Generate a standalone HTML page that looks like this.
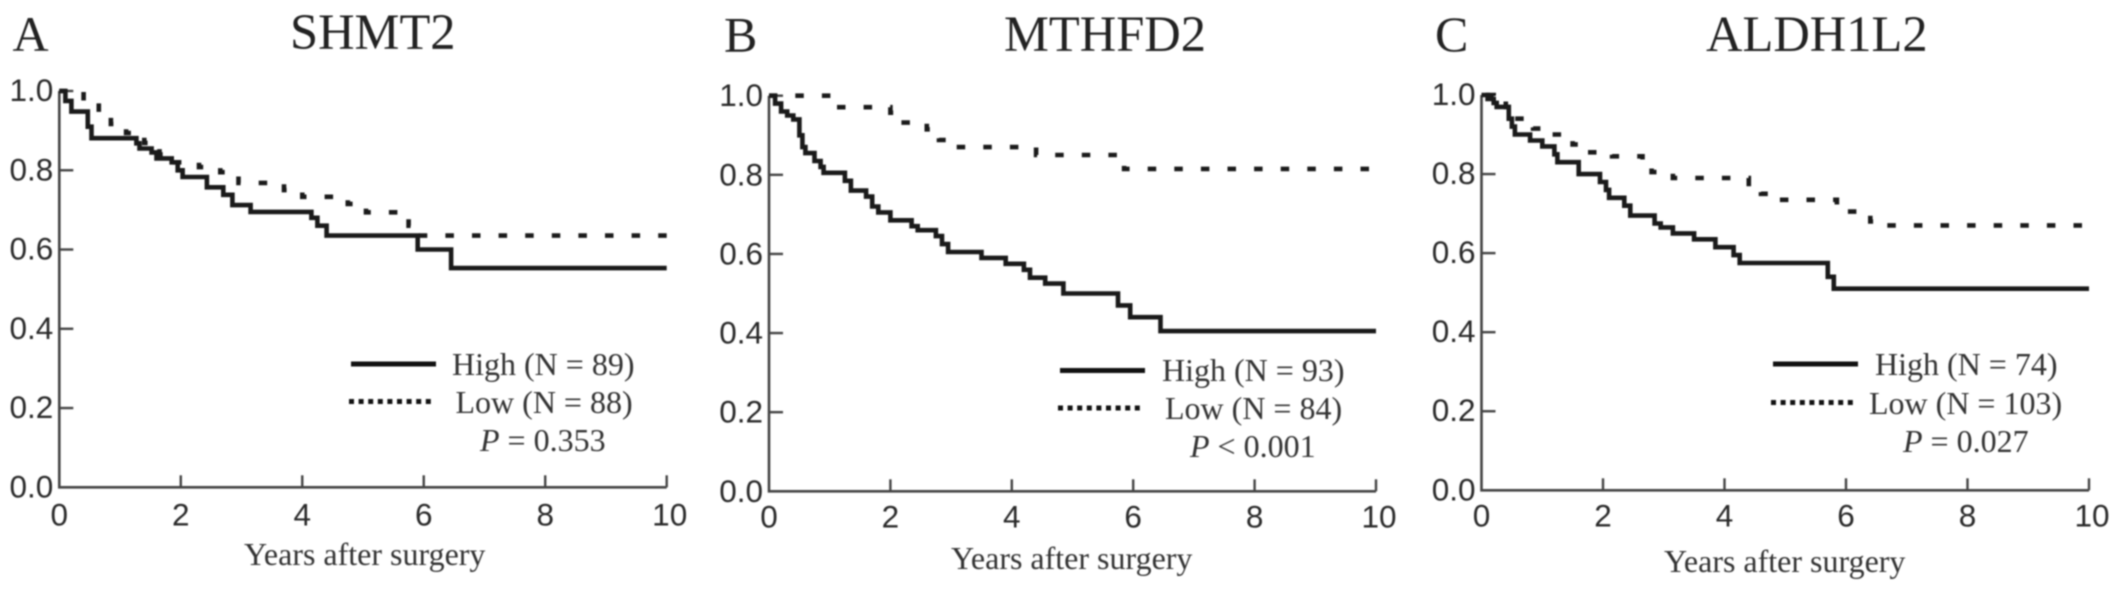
<!DOCTYPE html>
<html lang="en">
<head>
<meta charset="utf-8">
<title>Kaplan-Meier survival curves</title>
<style>
html,body{margin:0;padding:0;background:#fff;width:2126px;height:590px;overflow:hidden}
svg{display:block;filter:blur(0.7px)}
.serif{font-family:"Liberation Serif",serif;fill:#333}
.sans{font-family:"Liberation Sans",sans-serif;fill:#2a2a2a;font-size:31.5px}
.title{font-size:50.5px;fill:#222}
.letter{font-size:50px;fill:#222}
.leg{font-size:32px}
.xt{font-size:32px}
</style>
</head>
<body>
<svg id="figure" width="2126" height="590" viewBox="0 0 2126 590" xmlns="http://www.w3.org/2000/svg">
  <g id="panel-a">
    <text class="serif letter" x="12.5" y="51">A</text>
    <text class="serif title" x="290" y="49">SHMT2</text>
    <text class="serif xt" x="244" y="565">Years after surgery</text>
    <line x1="351" y1="364" x2="436" y2="364" stroke="#111" stroke-width="5"/>
    <line x1="349" y1="401.5" x2="434" y2="401.5" stroke="#111" stroke-width="5" stroke-dasharray="5 4.6"/>
    <text class="serif leg" x="452" y="375">High (N = 89)</text>
    <text class="serif leg" x="455.5" y="413">Low (N = 88)</text>
    <text class="serif leg" x="480" y="451"><tspan font-style="italic">P</tspan> = 0.353</text>
  </g>
  <g id="panel-b">
    <text class="serif letter" x="724" y="51.5">B</text>
    <text class="serif title" x="1004" y="51">MTHFD2</text>
    <text class="serif xt" x="951" y="569">Years after surgery</text>
    <line x1="1060" y1="370.5" x2="1145" y2="370.5" stroke="#111" stroke-width="5"/>
    <line x1="1058" y1="408" x2="1143" y2="408" stroke="#111" stroke-width="5" stroke-dasharray="5 4.6"/>
    <text class="serif leg" x="1162" y="381">High (N = 93)</text>
    <text class="serif leg" x="1165" y="419">Low (N = 84)</text>
    <text class="serif leg" x="1190" y="457"><tspan font-style="italic">P</tspan> &lt; 0.001</text>
  </g>
  <g id="panel-c">
    <text class="serif letter" x="1435" y="51">C</text>
    <text class="serif title" x="1706" y="51">ALDH1L2</text>
    <text class="serif xt" x="1664" y="572">Years after surgery</text>
    <line x1="1773" y1="364" x2="1858" y2="364" stroke="#111" stroke-width="5"/>
    <line x1="1771" y1="402.5" x2="1856" y2="402.5" stroke="#111" stroke-width="5" stroke-dasharray="5 4.6"/>
    <text class="serif leg" x="1875" y="375">High (N = 74)</text>
    <text class="serif leg" x="1869" y="414">Low (N = 103)</text>
    <text class="serif leg" x="1903" y="452"><tspan font-style="italic">P</tspan> = 0.027</text>
  </g>
</svg>
<script>
const xTicks = [0, 2, 4, 6, 8, 10];
const xTickLabels = ['0', '2', '4', '6', '8', '10'];
const yTicks = [0, 0.2, 0.4, 0.6, 0.8, 1.0];
const yTickLabels = ['0.0', '0.2', '0.4', '0.6', '0.8', '1.0'];

const highTimesA = [0, .1, .2, .42, .47, .53, 1.27, 1.32, 1.52, 1.6, 1.7, 1.85, 1.95, 2.03, 2.43, 2.7, 2.85, 3.15, 4.15, 4.25, 4.4, 5.9, 6.45, 10];
const highSurvA = [1, .975, .948, .948, .91, .881, .868, .855, .845, .83, .83, .82, .80, .783, .757, .738, .712, .695, .68, .66, .635, .60, .553, .553];
const lowTimesA = [0, .4, .65, .85, 1.1, 1.4, 1.65, 1.9, 2.3, 2.65, 2.95, 3.7, 4, 4.75, 5.05, 5.75, 5.85, 10];
const lowSurvA = [1, .975, .945, .917, .894, .869, .84, .82, .808, .795, .768, .75, .733, .715, .694, .66, .635, .635];

const highTimesB = [0, .1, .2, .3, .4, .5, .55, .6, .75, .85, .9, 1.25, 1.35, 1.6, 1.7, 1.8, 2, 2.35, 2.45, 2.75, 2.85, 2.95, 3.5, 3.9, 4.2, 4.3, 4.55, 4.85, 5.75, 5.95, 6.45, 10];
const highSurvB = [1, .98, .96, .95, .94, .90, .87, .855, .835, .82, .805, .785, .76, .745, .72, .705, .685, .67, .66, .645, .625, .605, .59, .575, .56, .54, .525, .50, .47, .44, .405, .405];
const lowTimesB = [0, 1.1, 2, 2.15, 2.6, 2.8, 3.05, 4.4, 5.85, 10];
const lowSurvB = [1, .971, .957, .932, .915, .888, .87, .85, .815, .815];

const highTimesC = [0, .1, .2, .25, .45, .5, .55, .8, 1, 1.2, 1.25, 1.6, 1.95, 2.05, 2.1, 2.35, 2.45, 2.85, 2.95, 3.15, 3.5, 3.85, 4.15, 4.25, 5.7, 5.8, 10];
const highSurvC = [1, .99, .98, .97, .94, .92, .90, .885, .87, .85, .83, .80, .78, .76, .74, .72, .695, .675, .665, .65, .635, .615, .595, .575, .54, .51, .51];
const lowTimesC = [0, .2, .4, .5, .85, 1.1, 1.5, 1.75, 2.15, 2.65, 2.8, 3.15, 4.4, 4.6, 4.9, 5.85, 6.4, 6.65, 10];
const lowSurvC = [1, .99, .97, .94, .915, .90, .875, .855, .845, .82, .805, .79, .755, .75, .735, .705, .68, .67, .67];

const NS = 'http://www.w3.org/2000/svg';

function xScale(t, frame) {
  return frame.x0 + (t / 10) * (frame.x1 - frame.x0);
}
function yScale(s, frame) {
  return frame.y0 + s * (frame.y1 - frame.y0);
}
function stepPath(times, surv, frame) {
  let d = 'M' + xScale(times[0], frame) + ' ' + yScale(surv[0], frame);
  for (let i = 1; i < times.length; i++) {
    d += 'H' + xScale(times[i], frame).toFixed(1);
    d += 'V' + yScale(surv[i], frame).toFixed(1);
  }
  return d;
}
function drawPanel(id, key, frame, highT, highS, lowT, lowS) {
  const g = document.getElementById(id);

  const axes = document.createElementNS(NS, 'path');
  axes.setAttribute('d', 'M' + frame.x0 + ' ' + frame.y1 + 'V' + frame.y0 + 'H' + frame.x1);
  axes.setAttribute('fill', 'none');
  axes.setAttribute('stroke', '#444');
  axes.setAttribute('stroke-width', '2.6');
  
  
  g.appendChild(axes);

  xTicks.forEach(function (t, i) {
    const px = xScale(t, frame);
    if (t > 0) {
      const tick = document.createElementNS(NS, 'line');
      tick.setAttribute('x1', px);
      tick.setAttribute('x2', px);
      tick.setAttribute('y1', frame.y0);
      tick.setAttribute('y2', frame.y0 - 12);
      tick.setAttribute('stroke', '#444');
      tick.setAttribute('stroke-width', '2.4');
      
      
      g.appendChild(tick);
    }
    const label = document.createElementNS(NS, 'text');
    label.setAttribute('class', 'sans');
    label.setAttribute('x', px + (t === 10 ? 3 : 0));
    label.setAttribute('y', frame.xBase);
    label.setAttribute('text-anchor', 'middle');
    
    
    label.textContent = xTickLabels[i];
    g.appendChild(label);
  });

  yTicks.forEach(function (s, i) {
    const py = yScale(s, frame);
    if (s > 0) {
      const tick = document.createElementNS(NS, 'line');
      tick.setAttribute('x1', frame.x0);
      tick.setAttribute('x2', frame.x0 + 14);
      tick.setAttribute('y1', py);
      tick.setAttribute('y2', py);
      tick.setAttribute('stroke', '#444');
      tick.setAttribute('stroke-width', '2.4');
      
      
      g.appendChild(tick);
    }
    const label = document.createElementNS(NS, 'text');
    label.setAttribute('class', 'sans');
    label.setAttribute('x', frame.x0 - 6);
    label.setAttribute('y', py + frame.yLabelDrop);
    label.setAttribute('text-anchor', 'end');
    
    
    label.textContent = yTickLabels[i];
    g.appendChild(label);
  });

  const low = document.createElementNS(NS, 'path');
  low.setAttribute('d', stepPath(lowT, lowS, frame));
  low.setAttribute('fill', 'none');
  low.setAttribute('stroke', '#1a1a1a');
  low.setAttribute('stroke-width', '4.6');
  low.setAttribute('stroke-dasharray', '8.5 18.1');
  
  
  g.appendChild(low);
  low.setAttribute('stroke-dashoffset', -(low.getTotalLength() - frame.dashTailGap - 8.5));

  const high = document.createElementNS(NS, 'path');
  high.setAttribute('d', stepPath(highT, highS, frame));
  high.setAttribute('fill', 'none');
  high.setAttribute('stroke', '#1a1a1a');
  high.setAttribute('stroke-width', '4.6');
  
  
  g.appendChild(high);
}

drawPanel('panel-a', 'a', {x0: 59.3, x1: 666.7, y0: 487.3, y1: 91, xBase: 525.5, yLabelDrop: 10, dashTailGap: 0}, highTimesA, highSurvA, lowTimesA, lowSurvA);
drawPanel('panel-b', 'b', {x0: 769, x1: 1376, y0: 491.3, y1: 95.7, xBase: 527.5, yLabelDrop: 10.5, dashTailGap: 7}, highTimesB, highSurvB, lowTimesB, lowSurvB);
drawPanel('panel-c', 'c', {x0: 1481.5, x1: 2089, y0: 490.3, y1: 95, xBase: 526.5, yLabelDrop: 10, dashTailGap: 7}, highTimesC, highSurvC, lowTimesC, lowSurvC);
</script>
</body>
</html>
